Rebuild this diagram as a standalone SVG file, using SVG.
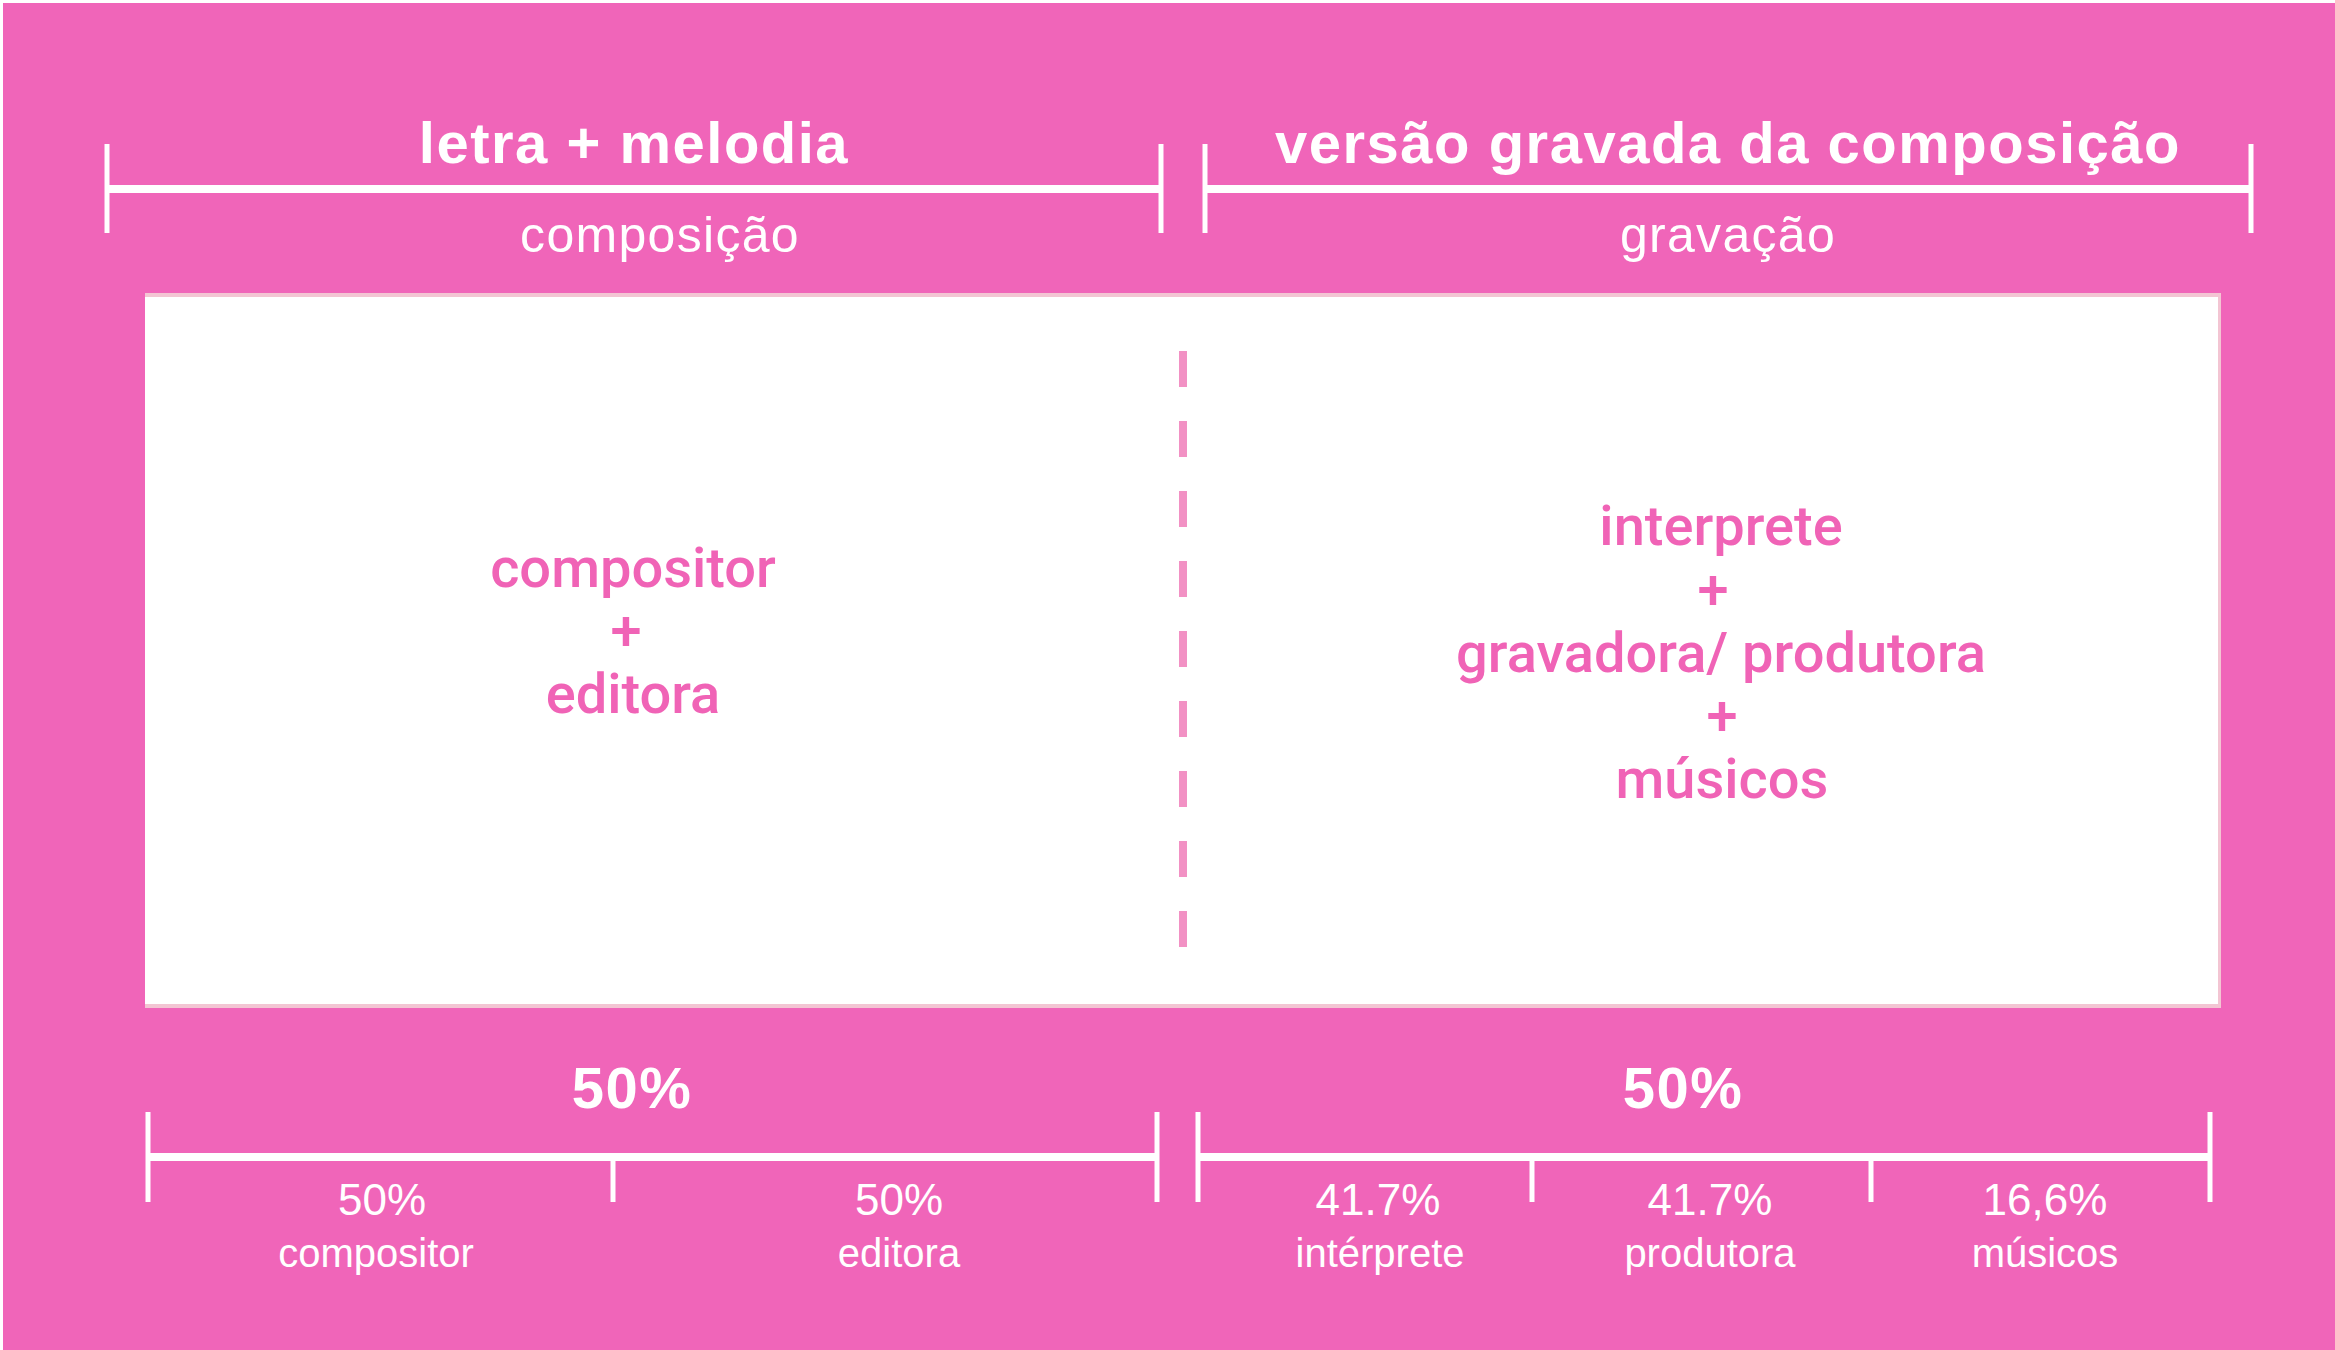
<svg xmlns="http://www.w3.org/2000/svg" width="2335" height="1350" viewBox="0 0 2335 1350">
  <style>
    .bg { fill: #f065b9; }
    .line { stroke: #ffffff; stroke-width: 8; fill: none; }
    .tick { stroke: #ffffff; stroke-width: 5; fill: none; }
    .head { font-family: "Liberation Sans", Arial, sans-serif; font-weight: bold; font-size: 58px; letter-spacing: 1.5px; fill: #ffffff; text-anchor: middle; }
    .sub { font-family: "Liberation Sans", Arial, sans-serif; font-size: 50px; letter-spacing: 1.3px; fill: #ffffff; text-anchor: middle; }
    .inner { font-family: Roboto, "Liberation Sans", sans-serif; font-weight: 500; font-size: 56px; fill: #f063b6; text-anchor: middle; }
    .pct { font-family: "Liberation Sans", Arial, sans-serif; font-size: 44px; fill: #ffffff; text-anchor: middle; }
    .lbl { font-family: "Liberation Sans", Arial, sans-serif; font-size: 40px; fill: #ffffff; text-anchor: middle; }
    .divider { stroke: #f291c4; stroke-width: 8; stroke-dasharray: 36 34; fill: none; }
  </style>
  <rect x="0" y="0" width="2335" height="1350" fill="#ffffff"/>
  <rect class="bg" x="3" y="3" width="2332" height="1347"/>

  <g id="box">
    <rect x="145" y="293" width="2076" height="715" fill="#f3c5d3"/>
    <rect x="145" y="297" width="2073" height="707" fill="#ffffff"/>
  </g>

  <g id="connectors">
    <!-- top left bracket -->
    <line class="line" x1="107" y1="189" x2="1161" y2="189"/>
    <line class="tick" x1="107" y1="144" x2="107" y2="233"/>
    <line class="tick" x1="1161" y1="144" x2="1161" y2="233"/>
    <!-- top right bracket -->
    <line class="line" x1="1205" y1="189" x2="2251" y2="189"/>
    <line class="tick" x1="1205" y1="144" x2="1205" y2="233"/>
    <line class="tick" x1="2251" y1="144" x2="2251" y2="233"/>
    <!-- bottom left bracket -->
    <line class="line" x1="148" y1="1157" x2="1157" y2="1157"/>
    <line class="tick" x1="148" y1="1112" x2="148" y2="1202"/>
    <line class="tick" x1="613" y1="1157" x2="613" y2="1202"/>
    <line class="tick" x1="1157" y1="1112" x2="1157" y2="1202"/>
    <!-- bottom right bracket -->
    <line class="line" x1="1198" y1="1157" x2="2210" y2="1157"/>
    <line class="tick" x1="1198" y1="1112" x2="1198" y2="1202"/>
    <line class="tick" x1="1532" y1="1157" x2="1532" y2="1202"/>
    <line class="tick" x1="1871" y1="1157" x2="1871" y2="1202"/>
    <line class="tick" x1="2210" y1="1112" x2="2210" y2="1202"/>
    <!-- dashed divider -->
    <line class="divider" x1="1183" y1="351" x2="1183" y2="947"/>
  </g>

  <g id="header-composicao">
    <text class="head" x="634" y="163">letra + melodia</text>
    <text class="sub" x="660" y="252">composição</text>
  </g>
  <g id="header-gravacao">
    <text class="head" x="1728" y="163">versão gravada da composição</text>
    <text class="sub" x="1728" y="252">gravação</text>
  </g>

  <g id="node-composicao">
    <text class="inner" x="633" y="587">compositor</text>
    <text class="inner" x="626" y="650">+</text>
    <text class="inner" x="633" y="713">editora</text>
  </g>
  <g id="node-gravacao">
    <text class="inner" x="1721" y="545">interprete</text>
    <text class="inner" x="1713" y="609">+</text>
    <text class="inner" x="1721" y="672">gravadora/ produtora</text>
    <text class="inner" x="1722" y="735">+</text>
    <text class="inner" x="1722" y="798">músicos</text>
  </g>

  <g id="share-composicao">
    <text class="head" x="632" y="1108">50%</text>
    <text class="pct" x="382" y="1215">50%</text>
    <text class="lbl" x="376" y="1267">compositor</text>
    <text class="pct" x="899" y="1215">50%</text>
    <text class="lbl" x="899" y="1267">editora</text>
  </g>
  <g id="share-gravacao">
    <text class="head" x="1683" y="1108">50%</text>
    <text class="pct" x="1378" y="1215">41.7%</text>
    <text class="lbl" x="1380" y="1267">intérprete</text>
    <text class="pct" x="1710" y="1215">41.7%</text>
    <text class="lbl" x="1710" y="1267">produtora</text>
    <text class="pct" x="2045" y="1215">16,6%</text>
    <text class="lbl" x="2045" y="1267">músicos</text>
  </g>
</svg>
